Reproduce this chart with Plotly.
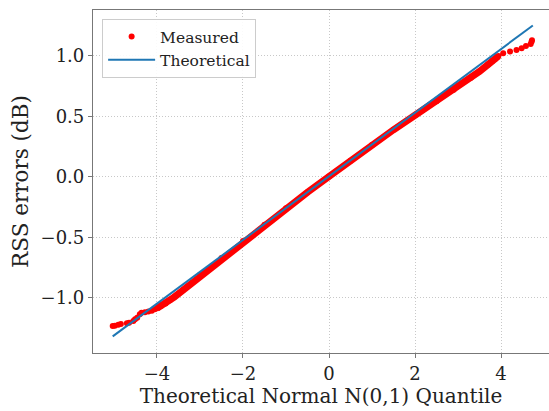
import plotly.graph_objects as go

# Theoretical line (read endpoints)
theo_x = [-5.03, 4.74]
theo_y = [-1.318, 1.252]

# Measured quantiles
left_tail_x = [-5.03, -4.98, -4.90, -4.84, -4.70, -4.65, -4.55, -4.51, -4.46, -4.40, -4.36, -4.28, -4.20, -4.12, -4.05]
left_tail_y = [-1.232, -1.229, -1.222, -1.216, -1.21, -1.204, -1.19, -1.176, -1.163, -1.135, -1.122, -1.118, -1.112, -1.105, -1.094]

body_x = [-4.0, -3.9, -3.8, -3.7, -3.6, -3.5, -3.4, -3.3, -3.2, -3.0, -2.5, -2.0, -1.5, -1.0, -0.5,
          0.0, 0.5, 1.0, 1.5, 2.0, 2.5, 2.9, 3.3, 3.5, 3.7, 3.8, 3.86, 3.94]
body_y = [-1.085, -1.065, -1.045, -1.02, -0.993, -0.965, -0.937, -0.908, -0.88, -0.81, -0.67, -0.53, -0.395, -0.258, -0.126,
          0.004, 0.135, 0.265, 0.39, 0.51, 0.625, 0.72, 0.82, 0.872, 0.93, 0.958, 0.975, 1.0]

right_tail_x = [4.05, 4.21, 4.36, 4.48, 4.58, 4.69, 4.71, 4.72]
right_tail_y = [1.022, 1.036, 1.05, 1.064, 1.083, 1.10, 1.118, 1.13]

x_ticks = [-4, -2, 0, 2, 4]
y_ticks = [-1.0, -0.5, 0.0, 0.5, 1.0]

FONT = "DejaVu Serif"
RED = "#ff0000"
BLUE = "#1f77b4"
SPINE = "#777777"

meas_x = left_tail_x + body_x + right_tail_x
meas_y = left_tail_y + body_y + right_tail_y

fig = go.Figure()
# dense band of measured points
fig.add_trace(go.Scatter(x=body_x, y=body_y, mode="lines",
                         line=dict(color=RED, width=7), showlegend=False, hoverinfo="skip"))
fig.add_trace(go.Scatter(x=meas_x, y=meas_y, mode="markers", name="Measured",
                         marker=dict(color=RED, size=6)))
fig.add_trace(go.Scatter(x=theo_x, y=theo_y, mode="lines", name="Theoretical",
                         line=dict(color=BLUE, width=2)))

fig.update_layout(
    width=549, height=411,
    margin=dict(l=93, r=0, t=10, b=58),
    paper_bgcolor="white", plot_bgcolor="white",
    font=dict(family=FONT, size=18, color="#222222"),
    legend=dict(x=0.02, y=0.974, xanchor="left", yanchor="top",
                bgcolor="rgba(255,255,255,0.9)", bordercolor="#cccccc", borderwidth=1,
                font=dict(family=FONT, size=15.5, color="#222222"), itemwidth=47,
                tracegroupgap=2),
    showlegend=True,
)
fig.update_xaxes(
    range=[-5.488, 5.116], tickvals=x_ticks, ticktext=[("−" if v < 0 else "") + str(abs(v)) for v in x_ticks],
    showline=True, mirror=True, linecolor=SPINE, linewidth=1.2,
    ticks="outside", ticklen=4, tickcolor=SPINE,
    showgrid=True, gridcolor="#c8c8c8", griddash="1px,2px", gridwidth=1,
    zeroline=False, tickfont=dict(size=18),
    title=dict(text="Theoretical Normal N(0,1) Quantile", font=dict(size=20), standoff=3),
)
fig.update_yaxes(
    range=[-1.455, 1.380], tickvals=y_ticks,
    ticktext=[("−" if v < 0 else "") + f"{abs(v):.1f}" for v in y_ticks],
    showline=True, mirror=False, linecolor=SPINE, linewidth=1.2,
    ticks="outside", ticklen=4, tickcolor=SPINE,
    showgrid=True, gridcolor="#c8c8c8", griddash="1px,2px", gridwidth=1,
    zeroline=False, tickfont=dict(size=18),
    title=dict(text="RSS errors (dB)", font=dict(size=21.5), standoff=6),
)

fig.write_html("out.html")
